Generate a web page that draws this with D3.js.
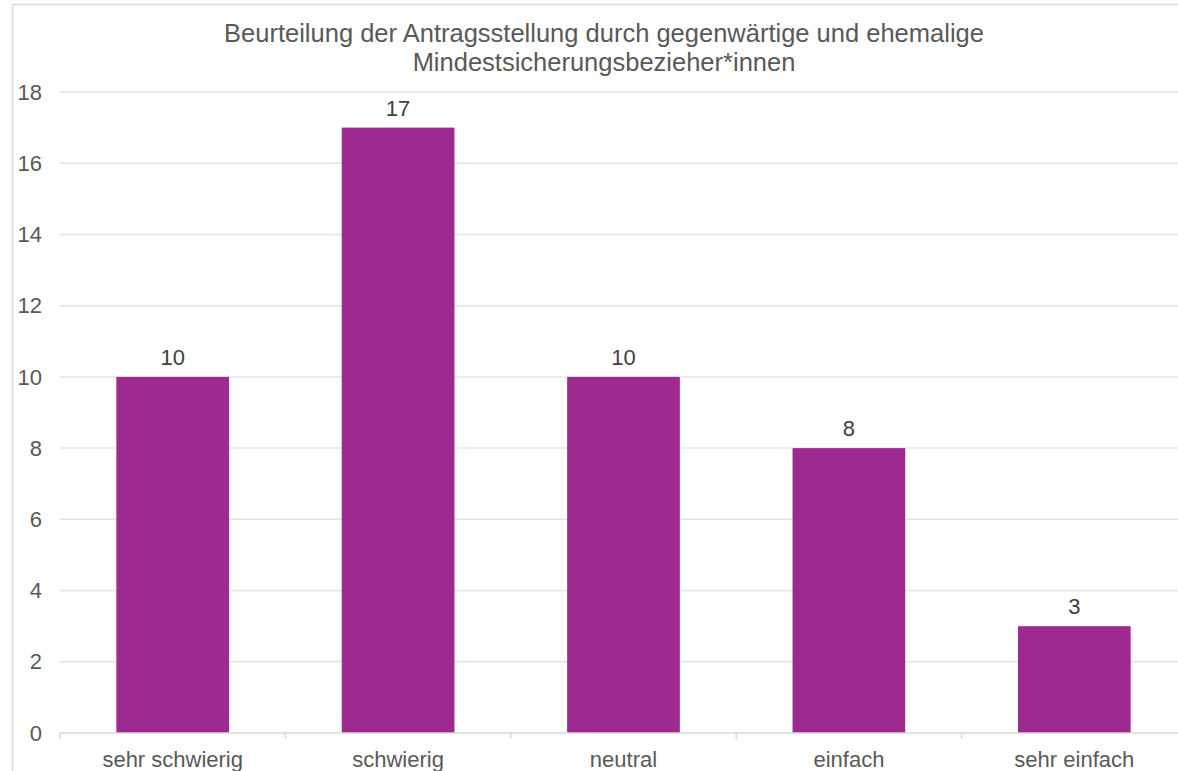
<!DOCTYPE html>
<html>
<head>
<meta charset="utf-8">
<script src="https://cdn.jsdelivr.net/npm/d3@7"></script>
<style>
  body { margin: 0; background: #fff; }
  text { font-family: "Liberation Sans", Arial, sans-serif; }
</style>
</head>
<body>
<div id="chart"></div>
<script>
// data
const categories = ["sehr schwierig", "schwierig", "neutral", "einfach", "sehr einfach"];
const counts = [10, 17, 10, 8, 3];
const yTicks = [0, 2, 4, 6, 8, 10, 12, 14, 16, 18];
const titleLines = [
  "Beurteilung der Antragsstellung durch gegenwärtige und ehemalige",
  "Mindestsicherungsbezieher*innen"
];

const width = 1178,
  height = 771,
  margin = { top: 92, bottom: 38, left: 60, right: -9 };

const svg = d3.select("#chart")
  .append("svg")
  .attr("width", width)
  .attr("height", height);

// outer frame
svg.append("rect")
  .attr("x", 12.5)
  .attr("y", 4.5)
  .attr("width", 1200)
  .attr("height", 800)
  .attr("fill", "none")
  .attr("stroke", "#d9d9d9")
  .attr("stroke-width", 1.5);

const x = d3.scaleBand()
  .domain(categories)
  .range([margin.left, width - margin.right])
  .paddingInner(0.5)
  .paddingOuter(0.25);

const y = d3.scaleLinear()
  .domain([0, 18])
  .range([height - margin.bottom, margin.top]);

// gridlines
svg.append("g")
  .selectAll("line")
  .data(yTicks.filter(d => d > 0))
  .join("line")
  .attr("x1", margin.left)
  .attr("x2", width)
  .attr("y1", d => y(d))
  .attr("y2", d => y(d))
  .attr("stroke", "#e4e4e4")
  .attr("stroke-width", 1.5);

// y labels
svg.append("g")
  .selectAll("text")
  .data(yTicks)
  .join("text")
  .attr("x", 42)
  .attr("y", d => y(d))
  .attr("dy", "0.35em")
  .attr("text-anchor", "end")
  .attr("font-size", 22)
  .attr("fill", "#595959")
  .text(d => d);

// bars
svg.append("g")
  .selectAll("rect")
  .data(categories)
  .join("rect")
  .attr("x", d => x(d))
  .attr("width", x.bandwidth())
  .attr("y", (d, i) => y(counts[i]))
  .attr("height", (d, i) => y(0) - y(counts[i]))
  .attr("fill", "#9f2a8f");

// value labels
svg.append("g")
  .selectAll("text")
  .data(categories)
  .join("text")
  .attr("x", d => x(d) + x.bandwidth() / 2)
  .attr("y", (d, i) => y(counts[i]) - 12)
  .attr("text-anchor", "middle")
  .attr("font-size", 22)
  .attr("fill", "#404040")
  .text((d, i) => counts[i]);

// x axis line and ticks between categories
const axisY = y(0);
svg.append("line")
  .attr("x1", margin.left)
  .attr("x2", width)
  .attr("y1", axisY)
  .attr("y2", axisY)
  .attr("stroke", "#d9d9d9")
  .attr("stroke-width", 1.5);

const step = x.step();
svg.append("g")
  .selectAll("line")
  .data(categories)
  .join("line")
  .attr("x1", d => x(d) - step * 0.25)
  .attr("x2", d => x(d) - step * 0.25)
  .attr("y1", axisY)
  .attr("y2", axisY + 6)
  .attr("stroke", "#d9d9d9")
  .attr("stroke-width", 1.5);

// x labels
svg.append("g")
  .selectAll("text")
  .data(categories)
  .join("text")
  .attr("x", d => x(d) + x.bandwidth() / 2)
  .attr("y", 767)
  .attr("text-anchor", "middle")
  .attr("font-size", 22)
  .attr("fill", "#595959")
  .text(d => d);

// title
svg.append("g")
  .selectAll("text")
  .data(titleLines)
  .join("text")
  .attr("x", 604)
  .attr("y", (d, i) => 42 + i * 28.5)
  .attr("text-anchor", "middle")
  .attr("font-size", 25.5)
  .attr("fill", "#595959")
  .text(d => d);
</script>
</body>
</html>
